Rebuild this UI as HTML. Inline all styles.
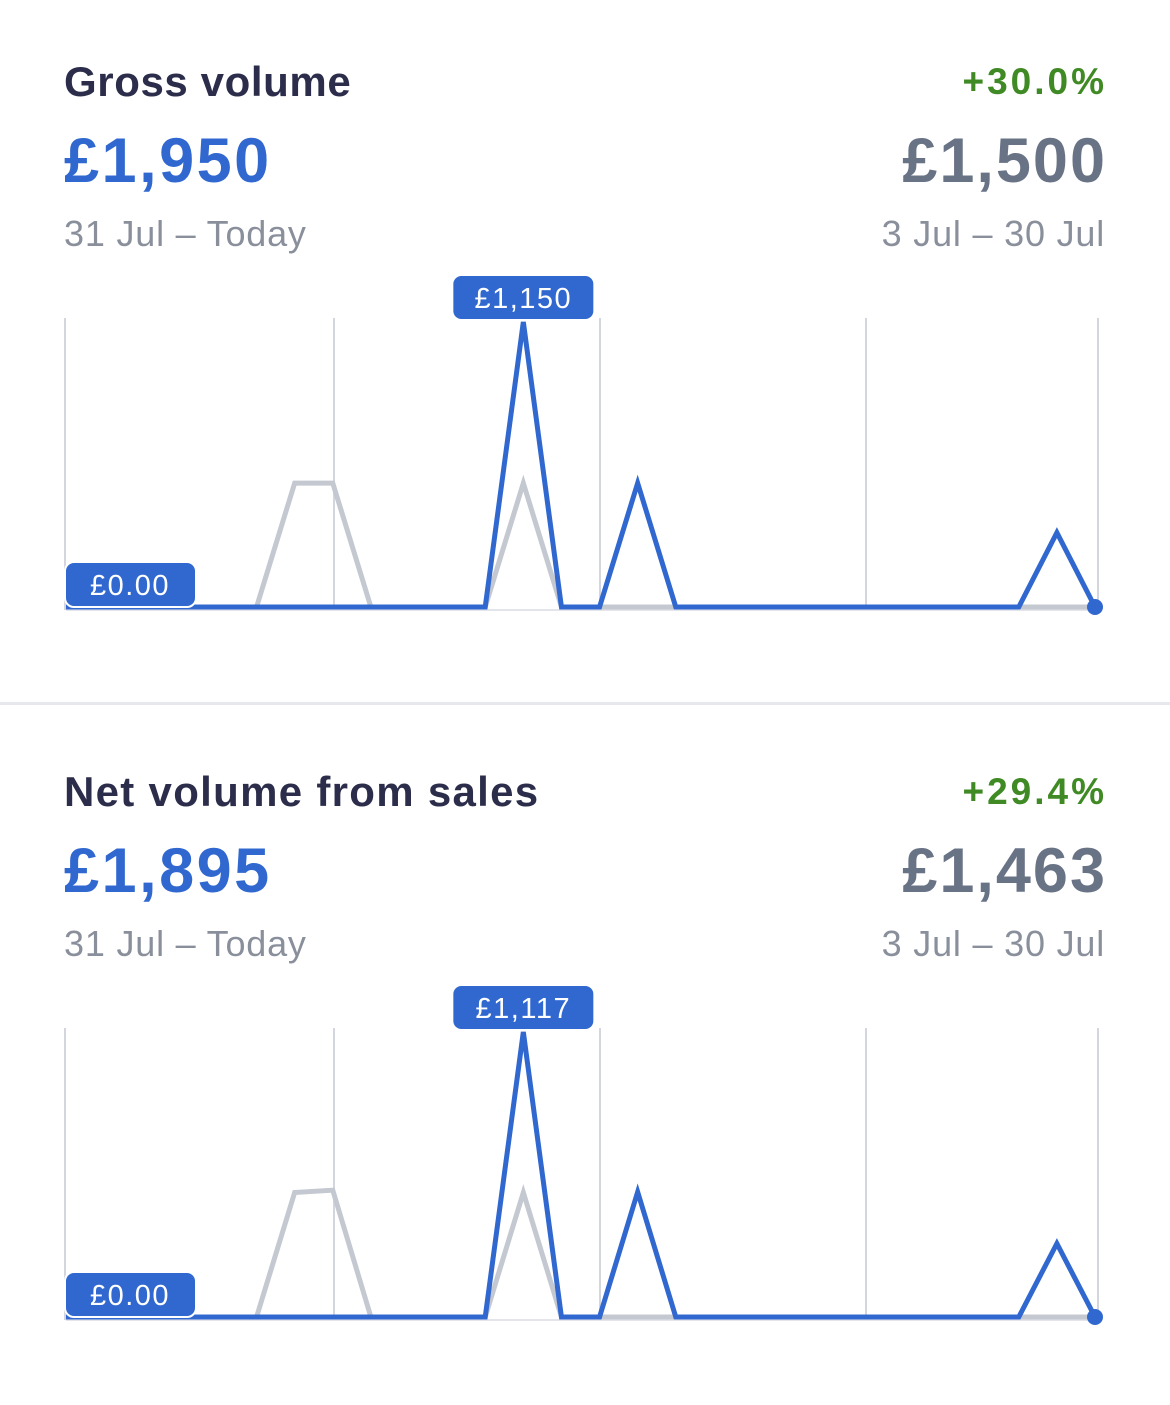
<!DOCTYPE html>
<html><head><meta charset="utf-8">
<style>
body{margin:0;width:1170px;height:1405px;background:#fff;font-family:"Liberation Sans",sans-serif;position:relative;overflow:hidden}
.t{position:absolute;white-space:nowrap}
.title{font-size:42px;font-weight:bold;color:#2b2d4b;letter-spacing:0.6px}
.big{font-size:63px;font-weight:bold;color:#3068d0;letter-spacing:2.5px}
.bigr{font-size:63px;font-weight:bold;color:#697386;letter-spacing:2px}
.date{font-size:36px;color:#8a8f9c;letter-spacing:0.8px}
.pct{font-size:37px;font-weight:bold;color:#3f8a24;letter-spacing:3px}
.divider{position:absolute;left:0;top:702px;width:1170px;height:3px;background:#e6e8ee}
svg{position:absolute;left:0}
</style></head><body>
<div class="t title" style="left:64px;top:58px">Gross volume</div>
<div class="t big" style="left:64px;top:125px">£1,950</div>
<div class="t date" style="left:64px;top:213px">31 Jul – Today</div>
<div class="t pct" style="right:63px;top:61px">+30.0%</div>
<div class="t bigr" style="right:63px;top:125px">£1,500</div>
<div class="t date" style="right:65px;top:213px">3 Jul – 30 Jul</div>
<svg id="c1" width="1170" height="360" style="top:270px"></svg>
<div class="divider"></div>
<div class="t title" style="left:64px;top:768px;letter-spacing:1.3px">Net volume from sales</div>
<div class="t big" style="left:64px;top:835px">£1,895</div>
<div class="t date" style="left:64px;top:923px">31 Jul – Today</div>
<div class="t pct" style="right:63px;top:771px">+29.4%</div>
<div class="t bigr" style="right:63px;top:835px">£1,463</div>
<div class="t date" style="right:65px;top:923px">3 Jul – 30 Jul</div>
<svg id="c2" width="1170" height="360" style="top:980px"></svg>
<script>
const days=28;
const grossCurrent=[0,0,0,0,0,0,0,0,0,0,0,0,1150,0,0,500,0,0,0,0,0,0,0,0,0,0,300,0];
const grossPrevious=[0,0,0,0,0,0,500,500,0,0,0,0,500,0,0,0,0,0,0,0,0,0,0,0,0,0,0,0];
const netCurrent=[0,0,0,0,0,0,0,0,0,0,0,0,1117,0,0,490,0,0,0,0,0,0,0,0,0,0,288,0];
const netPrevious=[0,0,0,0,0,0,488,497,0,0,0,0,488,0,0,0,0,0,0,0,0,0,0,0,0,0,0,0];
const grossPeakLabel="£1,150", netPeakLabel="£1,117", startLabel="£0.00";
const gridDays=[0,7,14,21,27];
const NS="http://www.w3.org/2000/svg";
function draw(svgId,cur,prev,peakLabel){
  const svg=document.getElementById(svgId);
  const max=Math.max(...cur);
  const x=i=>66+i*(1095-66)/(days-1);
  const y=v=>337-v/max*285;
  function mk(t,a){const e=document.createElementNS(NS,t);for(const k in a)e.setAttribute(k,a[k]);svg.appendChild(e);return e;}
  gridDays.forEach((d,i)=>{
    const gx=[65,334,600,866,1098][i];
    const g=mk('line',{x1:gx,x2:gx,y1:48,y2:340,stroke:'#d3d6dc','stroke-width':2});
    
    
  });
  const bl=mk('line',{x1:66,x2:1095,y1:340,y2:340,stroke:'#e3e5ea','stroke-width':2});
  
  
  const pp=mk('polyline',{points:prev.map((v,i)=>x(i)+','+y(v)).join(' '),fill:'none',stroke:'#c4c8d0','stroke-width':5,'stroke-linejoin':'miter'});
  
  
  const cp=mk('polyline',{points:cur.map((v,i)=>x(i)+','+y(v)).join(' '),fill:'none',stroke:'#3068d0','stroke-width':5,'stroke-linejoin':'miter'});
  
  
  const dot=mk('circle',{cx:x(days-1),cy:y(0),r:8,fill:'#3068d0'});
  
  
  const pi=cur.indexOf(max);
  const px=x(pi);
  const bw=140;
  const pb=mk('rect',{x:px-bw/2,y:6,width:bw,height:43,rx:8,fill:'#3068d0'});
  
  
  const pt=mk('text',{x:px,y:38,'text-anchor':'middle',fill:'#fff','font-size':29,'letter-spacing':1.5,'font-family':'Liberation Sans, sans-serif'});
  pt.textContent=peakLabel;
  
  
  const sb=mk('rect',{x:65,y:292,width:131,height:45,rx:9,fill:'#3068d0',stroke:'#fff','stroke-width':2});
  
  
  const st=mk('text',{x:130,y:325,'text-anchor':'middle',fill:'#fff','font-size':29,'letter-spacing':1.5,'font-family':'Liberation Sans, sans-serif'});
  st.textContent=startLabel;
  
  
}
draw('c1',grossCurrent,grossPrevious,grossPeakLabel);
draw('c2',netCurrent,netPrevious,netPeakLabel);
</script>
</body></html>
